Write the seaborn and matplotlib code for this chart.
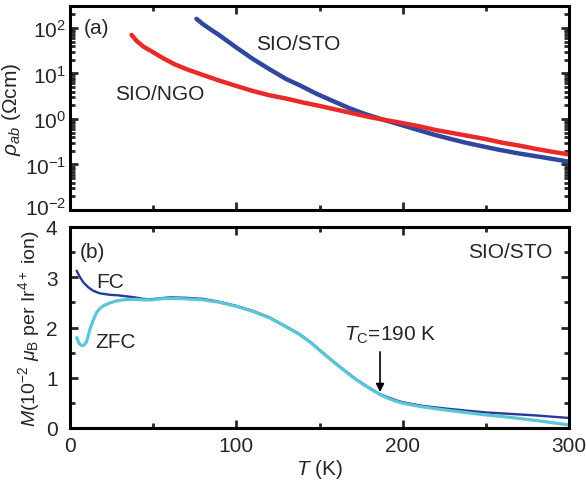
import numpy as np
import pandas as pd
import matplotlib
matplotlib.use("Agg")
import matplotlib.pyplot as plt
import matplotlib.transforms as mtransforms
import seaborn as sns
from matplotlib.ticker import MultipleLocator, LogLocator, NullFormatter

# panel (a): resistivity
T_sto = [76, 80, 85, 90, 100, 110, 120, 130, 138, 148, 158, 168, 178, 188, 198, 208, 218, 228, 238, 248, 258, 270, 285, 300]
rho_sto = [158, 120, 90, 68, 37, 20.7, 12.3, 7.5, 5.5, 3.6, 2.48, 1.72, 1.26, 0.97, 0.76, 0.59, 0.46, 0.37, 0.3, 0.25, 0.21, 0.174, 0.142, 0.115]
T_ngo = [37, 40, 44, 50, 56, 63, 70, 80, 90, 100, 110, 120, 130, 140, 150, 160, 170, 180, 190, 200, 210, 220, 230, 240, 250, 260, 270, 280, 290, 300]
rho_ngo = [70, 52, 39, 29.1, 21.5, 15.8, 12.4, 9.2, 6.9, 5.3, 4.1, 3.3, 2.8, 2.3, 1.93, 1.6, 1.33, 1.1, 0.94, 0.81, 0.69, 0.57, 0.49, 0.42, 0.36, 0.3, 0.26, 0.22, 0.19, 0.166]

# panel (b): magnetization
T_fc = [4, 6, 8, 11, 14, 18, 24, 29, 34, 39, 44, 48, 54, 60, 70, 80, 90, 100, 110, 120, 130, 138,
        145, 152, 160, 165, 172, 180, 186, 192, 198, 205, 212, 225, 240, 250, 265, 280, 300]
M_fc = [3.13, 3.0, 2.9, 2.8, 2.73, 2.68, 2.65, 2.64, 2.62, 2.6, 2.57, 2.56, 2.58, 2.6, 2.59, 2.57, 2.51, 2.43, 2.33, 2.2, 2.02, 1.87,
        1.7, 1.5, 1.28, 1.15, 0.97, 0.8, 0.68, 0.6, 0.53, 0.48, 0.44, 0.39, 0.34, 0.31, 0.28, 0.25, 0.2]
T_zfc = [4, 5.5, 7, 8.5, 10, 12, 14, 16, 18, 20, 24, 28, 32, 36, 40, 44, 50, 54, 60, 70, 80, 90, 100, 110, 120, 130, 138,
         145, 152, 160, 165, 172, 180, 186, 192, 198, 205, 212, 225, 240, 250, 265, 280, 300]
M_zfc = [1.8, 1.68, 1.64, 1.65, 1.72, 1.97, 2.15, 2.3, 2.38, 2.43, 2.49, 2.53, 2.55, 2.56, 2.56, 2.55, 2.55, 2.57, 2.58, 2.57, 2.55, 2.5, 2.42, 2.32, 2.19, 2.01, 1.86,
         1.69, 1.49, 1.27, 1.14, 0.96, 0.79, 0.67, 0.58, 0.51, 0.46, 0.42, 0.36, 0.3, 0.26, 0.21, 0.15, 0.06]

sns.set_theme(style="ticks")
plt.rcParams['font.family'] = ['Liberation Sans', 'DejaVu Sans']
plt.rcParams['mathtext.fontset'] = 'custom'
plt.rcParams['mathtext.rm'] = 'Liberation Sans'
plt.rcParams['mathtext.it'] = 'Liberation Sans:italic'
plt.rcParams['axes.linewidth'] = 2.2
plt.rcParams['axes.edgecolor'] = 'black'

fig = plt.figure(figsize=(5.86, 4.85), dpi=100)
ax1 = fig.add_axes([70/586, 1-211/485, 499/586, 204/485])
ax2 = fig.add_axes([70/586, 1-429/485, 499/586, 201/485])

blue = '#2F479D'
red = '#EA2A2A'
sns.lineplot(x=T_sto, y=rho_sto, ax=ax1, color=blue, lw=3.2, sort=False, estimator=None)
sns.lineplot(x=T_ngo, y=rho_ngo, ax=ax1, color=red, lw=3.2, sort=False, estimator=None)
ax1.set_yscale('log')
ax1.set_ylim(1e-2, 10**2.48)
ax1.set_xlim(0, 300)
ax1.yaxis.set_major_locator(LogLocator(base=10, numticks=10))
ax1.yaxis.set_minor_locator(LogLocator(base=10, subs=np.arange(2, 10), numticks=10))
ax1.yaxis.set_minor_formatter(NullFormatter())
ax1.set_xticklabels([])
ax1.set_ylabel(r'$\rho_{ab}$ ($\Omega$cm)', fontsize=15, labelpad=1)
ax1.text(0.027, 0.87, '(a)', transform=ax1.transAxes, fontsize=15)
ax1.text(112, 35, 'SIO/STO', fontsize=15)
ax1.text(27, 2.7, 'SIO/NGO', fontsize=15)

sns.lineplot(x=T_fc, y=M_fc, ax=ax2, color='#263B99', lw=1.7, sort=False, estimator=None)
sns.lineplot(x=T_zfc, y=M_zfc, ax=ax2, color='#5BC6D6', lw=2.3, sort=False, estimator=None)
ax2.set_xlim(0, 300)
ax2.set_ylim(0, 4)
ax2.xaxis.set_major_locator(MultipleLocator(100))
ax2.xaxis.set_minor_locator(MultipleLocator(50))
ax2.yaxis.set_major_locator(MultipleLocator(1))
ax2.yaxis.set_minor_locator(MultipleLocator(0.5))
ax2.set_xlabel(r'$T$ (K)', fontsize=15, labelpad=1)
ax2.set_ylabel(r'$M$(10$^{-2}$ $\mu_\mathrm{B}$ per Ir$^{4+}$ ion)', fontsize=14, labelpad=3)
ax2.text(0.02, 0.85, '(b)', transform=ax2.transAxes, fontsize=15)
ax2.text(0.966, 0.85, 'SIO/STO', transform=ax2.transAxes, fontsize=15, ha='right')
ax2.text(16, 2.8, 'FC', fontsize=15)
ax2.text(15, 1.61, 'ZFC', fontsize=15)
ax2.text(165, 1.75, r'$T_\mathrm{C}$=190 K', fontsize=15)
ax2.annotate('', xy=(186.4, 0.66), xytext=(186.4, 1.57),
             arrowprops=dict(arrowstyle='-|>', color='black', lw=1.2, mutation_scale=12))

for ax in (ax1, ax2):
    ax.tick_params(which='both', direction='in', top=True, right=True, labelsize=15, width=2)
    ax.tick_params(which='major', length=6)
    ax.tick_params(which='minor', length=3.5)
    ax.xaxis.set_major_locator(MultipleLocator(100))
    ax.xaxis.set_minor_locator(MultipleLocator(50))
ax1.tick_params(axis='y', pad=3)
ax2.tick_params(axis='y', pad=9)
ax2.tick_params(axis='x', pad=6)

# nudge the lowest label of panel (a) up so it clears the "4" of panel (b)
fig.canvas.draw()
lbl = ax1.get_yticklabels()
for t in lbl:
    if '-2' in t.get_text() or '−2' in t.get_text():
        t.set_transform(t.get_transform() + mtransforms.ScaledTranslation(0, 3/72, fig.dpi_scale_trans))

fig.savefig('out.png', dpi=100)
